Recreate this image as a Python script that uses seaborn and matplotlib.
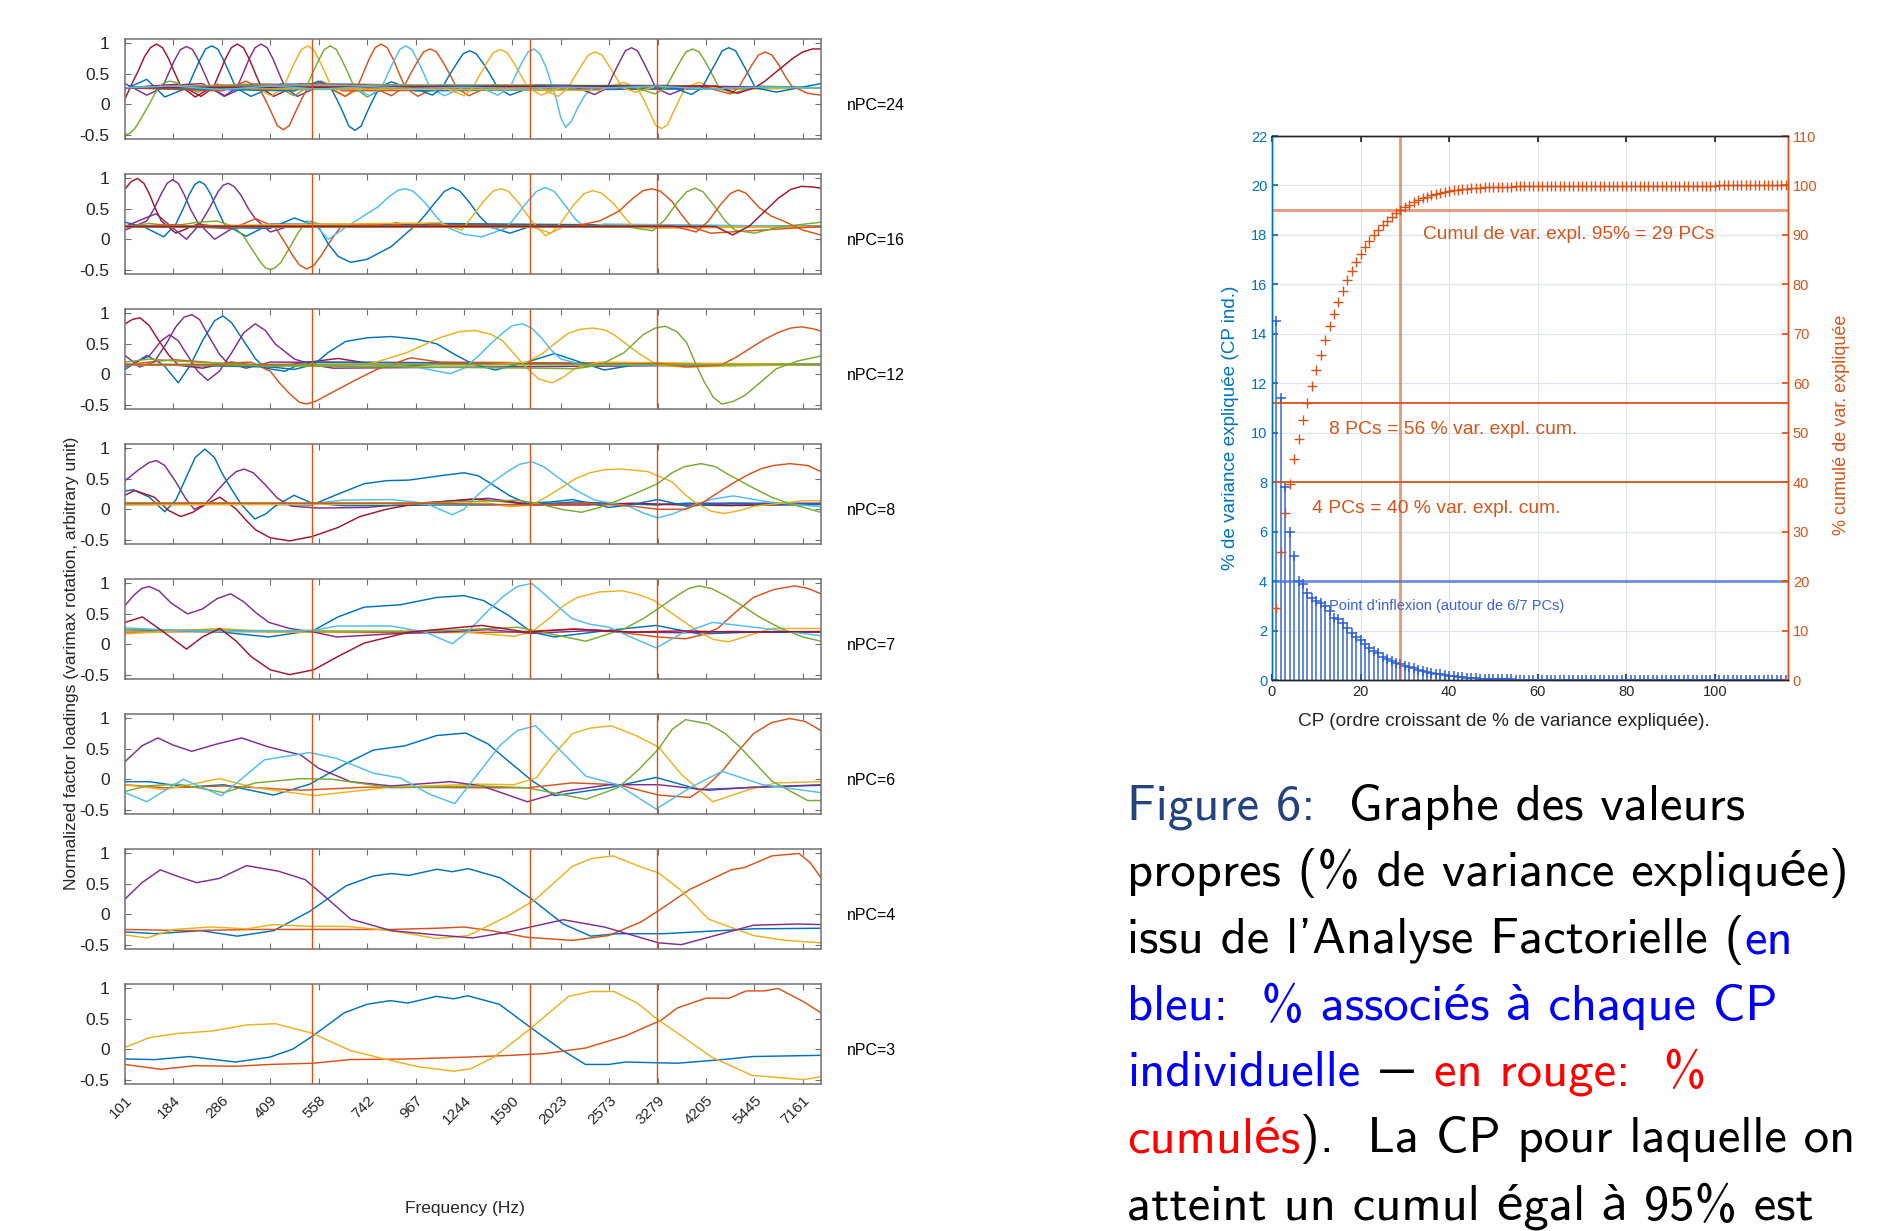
import numpy as np
import pandas as pd
import matplotlib
matplotlib.use("Agg")
import matplotlib.pyplot as plt
import seaborn as sns

# ---------------------------------------------------------------- data
FREQ_LABELS = ["101", "184", "286", "409", "558", "742", "967", "1244",
               "1590", "2023", "2573", "3279", "4205", "5445", "7161"]
POS_MAX = 14.375                     # last frequency bin on the tick scale
BAND_MARKS = [3.87, 8.36, 10.99]     # vertical reference lines (tick scale)

# factor loadings, one list of (position, loading) knots per component
NPC24 = [
    ("R", [(0, .09), (.15, .35), (.275, .55), (.4, .78), (.525, .93), (.65, .99), (.775, .93), (.9, .75), (1.025, .52), (1.15, .3), (1.45, .12), (1.9, .33), (2.4, .25), (14.375, .27)]),
    ("P", [(0, .34), (.45, .15), (.77, .27), (.895, .5), (1.02, .72), (1.145, .9), (1.27, .95), (1.395, .9), (1.52, .72), (1.645, .5), (1.77, .27), (2.05, .13), (2.6, .33), (14.375, .27)]),
    ("B", [(0, .25), (.45, .41), (.82, .12), (1.29, .27), (1.415, .5), (1.54, .72), (1.665, .91), (1.79, .96), (1.915, .91), (2.04, .72), (2.165, .5), (2.29, .27), (2.6, .13), (3.2, .33), (14.375, .27)]),
    ("R", [(0, .27), (1.1, .33), (1.57, .13), (1.82, .27), (1.945, .5), (2.07, .74), (2.195, .93), (2.32, .99), (2.445, .93), (2.57, .74), (2.695, .5), (2.82, .27), (3.07, .13), (3.6, .33), (14.375, .27)]),
    ("P", [(0, .27), (1.6, .34), (2.06, .14), (2.31, .27), (2.435, .5), (2.56, .74), (2.685, .93), (2.81, .99), (2.935, .93), (3.06, .74), (3.185, .5), (3.31, .27), (3.56, .13), (4.1, .33), (14.375, .27)]),
    ("Y", [(0, .27), (2.55, .33), (3.02, .14), (3.27, .27), (3.395, .5), (3.52, .71), (3.645, .9), (3.77, .96), (3.895, .9), (4.02, .71), (4.145, .5), (4.27, .27), (4.55, .13), (5, .32), (14.375, .27)]),
    ("G", [(0, -.5), (.1, -.48), (.2, -.4), (.3, -.28), (.4, -.14), (.5, 0), (.6, .15), (.7, .28), (.8, .35), (.92, .38), (1.05, .36), (1.2, .3), (1.5, .2), (2, .31), (2.6, .24), (14.375, .27)]),
    ("G", [(0, .27), (3, .33), (3.5, .14), (3.74, .27), (3.865, .5), (3.99, .71), (4.115, .9), (4.24, .96), (4.365, .9), (4.49, .71), (4.615, .5), (4.74, .27), (5, .12), (5.5, .32), (14.375, .27)]),
    ("O", [(0, .27), (2, .22), (2.5, .38), (2.77, .27), (2.895, .08), (3.02, -.13), (3.145, -.35), (3.27, -.42), (3.395, -.35), (3.52, -.13), (3.645, .08), (3.77, .27), (4.05, .38), (4.5, .22), (14.375, .27)]),
    ("O", [(0, .27), (4.05, .33), (4.55, .13), (4.79, .27), (4.915, .5), (5.04, .74), (5.165, .93), (5.29, .99), (5.415, .93), (5.54, .74), (5.665, .5), (5.79, .27), (6.05, .13), (6.5, .32), (14.375, .27)]),
    ("B", [(0, .27), (3.5, .22), (4, .38), (4.25, .27), (4.375, .08), (4.5, -.13), (4.625, -.36), (4.75, -.43), (4.875, -.36), (5, -.13), (5.125, .08), (5.25, .27), (5.5, .37), (6, .22), (14.375, .27)]),
    ("L", [(0, .27), (4.6, .33), (5.05, .14), (5.3, .27), (5.425, .5), (5.55, .71), (5.675, .9), (5.8, .96), (5.925, .9), (6.05, .71), (6.175, .5), (6.3, .27), (6.6, .14), (7.1, .32), (14.375, .27)]),
    ("O", [(0, .27), (5, .32), (5.5, .14), (5.75, .27), (5.89, .49), (6.03, .69), (6.165, .86), (6.3, .91), (6.435, .86), (6.57, .69), (6.71, .49), (6.85, .27), (7.1, .14), (7.6, .32), (14.375, .27)]),
    ("B", [(0, .27), (5.8, .32), (6.35, .15), (6.55, .27), (6.7, .48), (6.85, .67), (6.985, .83), (7.12, .88), (7.255, .83), (7.4, .67), (7.55, .48), (7.7, .27), (7.95, .15), (8.5, .31), (14.375, .27)]),
    ("Y", [(0, .27), (6.45, .32), (7, .14), (7.18, .27), (7.325, .48), (7.47, .68), (7.61, .85), (7.75, .9), (7.89, .85), (8.03, .68), (8.175, .48), (8.32, .27), (8.6, .15), (9.1, .31), (14.375, .27)]),
    ("L", [(0, .27), (7.2, .32), (7.7, .15), (7.95, .27), (8.075, .49), (8.2, .69), (8.325, .86), (8.45, .91), (8.575, .82), (8.7, .6), (8.8, .35), (8.9, .1), (9.0, -.22), (9.1, -.38), (9.22, -.28), (9.35, -.06), (9.5, .15), (9.7, .3), (10.2, .31), (14.375, .27)]),
    ("Y", [(0, .27), (8.4, .32), (8.95, .13), (9.15, .27), (9.29, .46), (9.43, .64), (9.57, .81), (9.71, .86), (9.85, .81), (9.99, .64), (10.13, .46), (10.27, .27), (10.55, .2), (11, .3), (14.375, .27)]),
    ("P", [(0, .27), (9.2, .31), (9.7, .16), (9.96, .27), (10.085, .49), (10.21, .69), (10.335, .88), (10.46, .93), (10.585, .88), (10.71, .69), (10.835, .49), (10.96, .27), (11.25, .16), (11.7, .3), (14.375, .27)]),
    ("Y", [(0, .27), (9.8, .23), (10.3, .36), (10.58, .27), (10.705, .09), (10.83, -.12), (10.955, -.34), (11.08, -.4), (11.205, -.34), (11.33, -.12), (11.455, .09), (11.58, .27), (11.85, .36), (12.3, .24), (14.375, .27)]),
    ("G", [(0, .27), (10.4, .31), (10.95, .17), (11.17, .27), (11.31, .48), (11.45, .68), (11.585, .86), (11.72, .91), (11.86, .86), (12, .68), (12.135, .48), (12.27, .27), (12.55, .18), (13.1, .3), (14.375, .27)]),
    ("B", [(0, .27), (11.2, .31), (11.7, .16), (11.92, .27), (12.06, .48), (12.2, .68), (12.335, .88), (12.47, .93), (12.61, .88), (12.75, .68), (12.885, .48), (13.02, .27), (13.45, .2), (14.375, .34)]),
    ("O", [(0, .27), (11.9, .3), (12.5, .17), (12.67, .27), (12.81, .46), (12.95, .65), (13.085, .81), (13.22, .86), (13.36, .81), (13.5, .65), (13.635, .46), (13.77, .3), (14.1, .18), (14.375, .15)]),
    ("R", [(0, .27), (12.2, .3), (12.65, .18), (13, .27), (13.2, .37), (13.4, .5), (13.6, .63), (13.8, .76), (14.0, .86), (14.2, .91), (14.375, .91)]),
    ("L", [(0, .27), (1, .3), (2, .24), (3, .3), (4, .25), (5, .29), (6, .26), (7, .28), (8, .26), (9, .28), (10, .27), (11, .3), (12, .25), (13, .28), (14.375, .27)]),
]

NPC16 = [
    ("R", [(0, .83), (.13, .95), (.26, 1.0), (.39, .92), (.5, .75), (.62, .52), (.75, .3), (1.05, .1), (1.5, .25), (2, .2), (14.375, .21)]),
    ("P", [(0, .15), (.45, .3), (.6, .5), (.75, .75), (.87, .92), (.98, .98), (1.1, .92), (1.22, .74), (1.35, .5), (1.5, .28), (1.85, 0), (2.3, .22), (14.375, .21)]),
    ("B", [(0, .28), (.4, .2), (.8, .04), (1.05, .25), (1.2, .5), (1.33, .74), (1.44, .9), (1.54, .95), (1.65, .9), (1.77, .74), (1.9, .5), (2.05, .25), (2.5, .05), (3, .25), (14.375, .21)]),
    ("P", [(0, .21), (.64, .42), (1.27, 0), (1.55, .25), (1.75, .52), (1.92, .78), (2.03, .89), (2.13, .92), (2.25, .87), (2.4, .72), (2.55, .5), (2.7, .33), (3, .12), (3.5, .24), (14.375, .21)]),
    ("G", [(0, .2), (.5, .26), (1, .22), (1.5, .28), (1.9, .3), (2.25, .21), (2.45, .05), (2.62, -.16), (2.8, -.38), (2.9, -.47), (3, -.5), (3.1, -.47), (3.22, -.38), (3.4, -.14), (3.57, .1), (3.75, .3), (4.1, .24), (14.375, .21)]),
    ("O", [(0, .21), (1, .24), (2.2, .17), (2.7, .34), (3.1, .2), (3.3, -.05), (3.45, -.25), (3.6, -.42), (3.75, -.49), (3.9, -.43), (4.05, -.27), (4.25, -.02), (4.45, .2), (4.8, .25), (14.375, .21)]),
    ("B", [(0, .21), (3, .18), (3.5, .35), (4, .2), (4.2, -.08), (4.4, -.28), (4.66, -.38), (5, -.33), (5.5, -.12), (5.97, .21), (6.3, .26), (14.375, .21)]),
    ("L", [(0, .21), (3.5, .21), (3.85, .3), (4.2, 0), (4.6, .22), (5.22, .53), (5.45, .7), (5.65, .81), (5.8, .83), (5.95, .79), (6.2, .6), (6.42, .38), (6.62, .21), (7.0, .08), (7.37, .04), (8, .22), (14.375, .21)]),
    ("B", [(0, .21), (5.2, .21), (5.6, .27), (6, .22), (6.2, .4), (6.4, .6), (6.6, .79), (6.76, .85), (6.92, .79), (7.12, .6), (7.32, .38), (7.55, .2), (7.95, .1), (8.4, .22), (14.375, .21)]),
    ("Y", [(0, .21), (6.5, .27), (6.95, .15), (7.15, .35), (7.4, .62), (7.6, .79), (7.76, .83), (7.92, .79), (8.15, .58), (8.4, .3), (8.68, .06), (9.1, .22), (14.375, .21)]),
    ("L", [(0, .21), (7.4, .22), (7.8, .15), (8.0, .3), (8.25, .56), (8.5, .79), (8.68, .85), (8.86, .79), (9.1, .55), (9.3, .33), (9.5, .2), (9.9, .25), (14.375, .21)]),
    ("Y", [(0, .21), (8.4, .2), (8.8, .1), (9.0, .27), (9.25, .55), (9.48, .75), (9.66, .8), (9.84, .76), (10.1, .58), (10.3, .38), (10.5, .2), (10.9, .18), (14.375, .21)]),
    ("O", [(0, .21), (9.3, .22), (9.8, .3), (10.2, .46), (10.5, .68), (10.7, .8), (10.88, .83), (11.06, .79), (11.3, .62), (11.5, .4), (11.7, .2), (12.1, .1), (14.375, .21)]),
    ("G", [(0, .21), (10.4, .2), (10.9, .14), (11.15, .32), (11.4, .6), (11.6, .78), (11.77, .84), (11.94, .78), (12.2, .52), (12.4, .3), (12.6, .15), (13, .1), (13.5, .2), (14.375, .28)]),
    ("O", [(0, .21), (11.3, .22), (11.8, .12), (12.05, .3), (12.3, .57), (12.5, .75), (12.66, .81), (12.82, .76), (13.1, .52), (13.35, .38), (13.6, .3), (14, .15), (14.375, .07)]),
    ("R", [(0, .21), (12.2, .21), (12.55, .07), (12.9, .22), (13.2, .45), (13.5, .68), (13.75, .82), (13.97, .87), (14.2, .86), (14.375, .84)]),
]

NPC12 = [
    ("R", [(0, .83), (.15, .9), (.31, .93), (.5, .8), (.7, .55), (.9, .32), (1.1, .15), (1.6, .1), (2.2, .2), (3, .12), (3.8, .2), (4.4, .26), (5.5, .12), (6.5, .17), (14.375, .16)]),
    ("P", [(0, .31), (.3, .12), (.6, .2), (.85, .5), (1.05, .78), (1.22, .94), (1.38, .98), (1.54, .9), (1.75, .6), (1.95, .33), (2.1, .2), (2.5, .1), (3, .2), (14.375, .16)]),
    ("B", [(0, .08), (.45, .31), (.8, .15), (1.1, -.14), (1.35, .15), (1.6, .55), (1.85, .88), (2.02, .96), (2.2, .85), (2.45, .55), (2.7, .25), (2.9, .1), (3.3, .05), (3.7, .2), (4, .2), (14.375, .16)]),
    ("P", [(0, .12), (.5, .3), (.75, .55), (.92, .65), (1.1, .55), (1.3, .3), (1.5, .05), (1.71, -.1), (1.95, .05), (2.2, .35), (2.45, .68), (2.69, .83), (2.9, .72), (3.1, .5), (3.5, .25), (3.9, .15), (4.3, .1), (14.375, .16)]),
    ("O", [(0, .16), (1, .24), (2, .18), (2.6, .2), (3, .05), (3.2, -.15), (3.4, -.32), (3.6, -.46), (3.75, -.49), (3.95, -.44), (4.3, -.29), (4.75, -.1), (5.2, .08), (5.9, .27), (6.5, .2), (14.375, .16)]),
    ("B", [(0, .16), (3, .12), (3.5, .08), (3.9, .16), (4.2, .36), (4.56, .54), (5.0, .6), (5.5, .62), (6.0, .58), (6.44, .5), (6.8, .33), (7.18, .17), (7.65, .07), (8.3, .2), (8.87, .34), (9.4, .2), (9.9, .07), (10.5, .15), (14.375, .16)]),
    ("Y", [(0, .16), (4.5, .15), (5.1, .18), (5.8, .35), (6.5, .6), (6.9, .7), (7.23, .72), (7.55, .66), (7.8, .55), (8.05, .32), (8.3, .1), (8.55, -.08), (8.82, -.14), (9.05, -.05), (9.3, .1), (9.8, .2), (14.375, .16)]),
    ("L", [(0, .16), (5, .16), (6, .12), (6.72, .01), (7.0, .1), (7.3, .3), (7.55, .5), (7.8, .68), (8.0, .8), (8.21, .83), (8.4, .76), (8.6, .6), (8.8, .4), (9, .25), (9.5, .15), (14.375, .16)]),
    ("Y", [(0, .16), (7.5, .16), (8.3, .2), (8.6, .33), (8.9, .52), (9.15, .67), (9.4, .74), (9.66, .76), (9.9, .73), (10.1, .65), (10.35, .5), (10.6, .35), (11, .15), (11.5, .12), (14.375, .16)]),
    ("G", [(0, .16), (8.5, .1), (9.3, .09), (9.8, .15), (10.3, .35), (10.7, .65), (10.95, .76), (11.16, .79), (11.4, .7), (11.6, .52), (11.8, .15), (11.96, -.12), (12.15, -.38), (12.33, -.49), (12.55, -.45), (12.8, -.35), (13.1, -.15), (13.45, .09), (13.9, .22), (14.375, .3)]),
    ("O", [(0, .16), (10, .16), (11, .18), (11.6, .12), (12.3, .15), (12.6, .27), (12.9, .42), (13.2, .57), (13.5, .69), (13.75, .76), (13.97, .78), (14.2, .75), (14.375, .71)]),
    ("G", [(0, .2), (.5, .25), (1, .22), (1.5, .2), (2, .18), (2.5, .16), (3, .13), (3.5, .15), (4, .16), (14.375, .16)]),
]

NPC8 = [
    ("P", [(0, .47), (.3, .66), (.5, .77), (.65, .8), (.82, .72), (1.05, .45), (1.25, .18), (1.43, 0), (1.65, .08), (1.9, .3), (2.15, .52), (2.3, .62), (2.46, .66), (2.65, .6), (2.9, .4), (3.15, .18), (3.44, .05), (4, .02), (5, .03), (6, .1), (7, .15), (7.5, .18), (8.4, .08), (9.5, .1), (11, .08), (12, .1), (14.375, .1)]),
    ("B", [(0, .3), (.17, .32), (.5, .2), (.82, -.04), (1.05, .15), (1.25, .5), (1.45, .85), (1.65, .99), (1.85, .85), (2.0, .6), (2.13, .42), (2.4, .08), (2.68, -.16), (2.9, -.08), (3.1, .05), (3.49, .23), (3.86, .1), (4.5, .06), (5.5, .06), (6.5, .07), (7.5, .07), (8.4, .08), (9.3, .12), (10, .1), (11, .07), (11.6, .1), (12.5, .07), (13.5, .08), (14.375, .08)]),
    ("R", [(0, .23), (.2, .31), (.6, .2), (.9, -.02), (1.15, -.12), (1.4, -.05), (1.6, .05), (1.96, .2), (2.3, 0), (2.5, -.18), (2.7, -.34), (3.0, -.47), (3.4, -.52), (3.86, -.45), (4.4, -.3), (4.85, -.12), (5.4, 0), (5.87, .07), (6.5, .12), (7.18, .17), (7.9, .12), (8.4, .07), (9.5, .07), (10.5, .1), (11.5, .07), (12.5, .06), (14.375, .08)]),
    ("B", [(0, .08), (2, .08), (3, .08), (3.86, .07), (4.4, .25), (4.94, .42), (5.4, .47), (5.87, .48), (6.5, .55), (7, .6), (7.3, .55), (7.6, .4), (7.95, .22), (8.3, .1), (8.8, .12), (9.24, .16), (10, .03), (10.5, .08), (11, .16), (11.6, .05), (12.5, .1), (13.5, .08), (14.375, .08)]),
    ("L", [(0, .1), (1, .1), (2, .1), (3.86, .09), (4.5, .15), (5.5, .16), (6.2, .1), (6.5, 0), (6.76, -.09), (7.0, 0), (7.3, .25), (7.6, .45), (7.9, .62), (8.15, .74), (8.4, .78), (8.65, .7), (8.9, .55), (9.3, .32), (9.7, .15), (10.4, .05), (10.7, -.06), (11, -.14), (11.3, -.08), (11.7, .05), (12.1, .16), (12.56, .22), (13.3, .12), (14.375, .04)]),
    ("Y", [(0, .07), (3, .08), (6, .09), (7.5, .1), (7.93, .04), (8.4, .07), (8.7, .2), (9, .35), (9.3, .5), (9.6, .6), (9.9, .65), (10.27, .66), (10.8, .62), (11.3, .45), (11.55, .25), (11.8, .1), (12.1, -.03), (12.38, -.07), (12.7, -.02), (13, .05), (14, .14), (14.375, .14)]),
    ("G", [(0, .1), (3, .1), (6, .1), (8.1, .15), (8.5, .1), (9.0, 0), (9.43, -.05), (9.8, .03), (10.2, .15), (10.6, .28), (11, .42), (11.3, .6), (11.55, .7), (11.9, .75), (12.2, .7), (12.4, .6), (12.7, .47), (13, .34), (13.35, .2), (13.7, .1), (14.375, -.05)]),
    ("O", [(0, .1), (3, .1), (6, .1), (8.4, .07), (9.5, .1), (10.5, .05), (11, 0), (11.58, 0), (11.95, .12), (12.3, .3), (12.6, .45), (12.9, .58), (13.15, .67), (13.4, .72), (13.73, .75), (14.1, .72), (14.375, .62)]),
]

NPC7 = [
    ("B", [(0, .24), (1, .22), (2, .2), (2.97, .12), (3.9, .23), (4.4, .45), (4.94, .61), (5.69, .65), (6.44, .77), (7, .8), (7.4, .72), (7.93, .47), (8.4, .2), (8.87, .12), (10, .23), (10.97, .31), (11.86, .17), (13, .2), (14.375, .2)]),
    ("O", [(0, .2), (2, .21), (4, .2), (6, .19), (8, .2), (9.24, .25), (10, .22), (11, .12), (11.58, .09), (11.9, .15), (12.24, .26), (12.6, .52), (12.98, .77), (13.4, .9), (13.83, .96), (14.1, .92), (14.375, .83)]),
    ("Y", [(0, .17), (1.96, .26), (3, .2), (4, .2), (5, .21), (6, .22), (7, .2), (8.03, .13), (8.4, .2), (8.8, .45), (9.05, .63), (9.34, .77), (9.8, .86), (10.27, .88), (10.6, .82), (10.93, .72), (11.4, .45), (11.86, .2), (12.15, .08), (12.47, .04), (12.9, .15), (13.36, .26), (14.375, .26)]),
    ("P", [(0, .64), (.2, .82), (.35, .92), (.5, .95), (.7, .88), (.95, .68), (1.29, .5), (1.6, .58), (1.9, .75), (2.18, .83), (2.45, .7), (2.7, .52), (2.97, .36), (3.4, .26), (3.9, .2), (4.38, .12), (5.5, .17), (6.5, .2), (7.5, .24), (8.4, .18), (9.5, .22), (10.5, .2), (11.5, .19), (12.5, .21), (13.5, .2), (14.375, .2)]),
    ("G", [(0, .24), (2, .23), (4, .22), (6, .21), (7, .24), (8.12, .28), (9.52, .05), (10.3, .25), (10.7, .42), (11.02, .59), (11.4, .8), (11.65, .92), (11.86, .96), (12.1, .92), (12.4, .8), (12.7, .66), (13.1, .45), (13.55, .26), (14.0, .12), (14.375, .05)]),
    ("L", [(0, .27), (1.29, .22), (1.96, .21), (3, .22), (3.9, .23), (4.38, .3), (5.5, .3), (6.2, .2), (6.76, .01), (7.1, .22), (7.47, .53), (7.8, .78), (8.1, .95), (8.4, 1.0), (8.7, .8), (9.0, .58), (9.24, .42), (9.6, .33), (10, .28), (10.5, .1), (10.97, -.06), (11.5, .18), (12.14, .36), (13, .28), (14.375, .14)]),
    ("R", [(0, .36), (.36, .45), (.8, .2), (1.27, -.08), (1.6, .12), (1.96, .26), (2.3, .05), (2.6, -.2), (3.0, -.42), (3.4, -.5), (3.9, -.42), (4.4, -.2), (4.94, .02), (5.87, .2), (7.37, .31), (8.3, .2), (9.3, .25), (10.5, .2), (11.5, .22), (12.5, .2), (14.375, .21)]),
]

NPC6 = [
    ("B", [(0, -.04), (.5, -.04), (1.29, -.13), (2.04, -.09), (3.07, -.26), (3.82, -.08), (4.57, .26), (5.13, .48), (5.78, .55), (6.44, .72), (7.04, .76), (7.5, .58), (7.93, .29), (8.4, -.02), (8.87, -.27), (10, -.14), (10.97, .03), (11.86, -.17), (12.8, -.14), (14.375, -.09)]),
    ("O", [(0, -.09), (.82, -.14), (2.04, -.11), (3.63, -.18), (5, -.13), (7.37, -.14), (8.31, -.14), (9.24, -.06), (10.18, -.09), (11.02, -.26), (11.67, -.3), (12.0, -.12), (12.33, .13), (12.65, .45), (12.98, .75), (13.35, .93), (13.73, 1.0), (14.05, .95), (14.375, .8)]),
    ("Y", [(0, -.09), (.82, -.17), (1.95, .01), (2.69, -.14), (3.91, -.27), (5.5, -.13), (7.28, -.08), (8.03, -.09), (8.49, .02), (8.85, .4), (9.24, .75), (9.6, .84), (10.04, .88), (10.55, .72), (11.02, .53), (11.49, .08), (12.14, -.37), (12.89, -.17), (13.45, -.06), (14.375, -.04)]),
    ("P", [(0, .29), (.35, .55), (.68, .68), (1.0, .56), (1.38, .46), (1.9, .58), (2.41, .68), (2.97, .53), (3.63, .4), (4, .18), (4.66, -.04), (5.5, -.11), (6.72, -.04), (7.37, -.11), (8.31, -.37), (9.05, -.2), (10, -.09), (11.02, -.09), (12.05, -.18), (12.98, -.13), (14.375, -.1)]),
    ("G", [(0, -.2), (.45, -.11), (1.1, -.08), (2.04, -.22), (2.69, -.06), (3.63, .01), (4.28, 0), (5.5, -.14), (7.37, -.11), (8.31, -.14), (9.52, -.33), (10.18, -.14), (10.6, .15), (11.02, .5), (11.3, .82), (11.58, .98), (12.05, .91), (12.4, .75), (12.7, .53), (13.36, -.03), (14.1, -.35), (14.375, -.35)]),
    ("L", [(0, -.22), (.45, -.37), (1.2, 0), (1.99, -.27), (2.88, .32), (3.82, .44), (4.38, .34), (5.13, .1), (5.69, .02), (6.3, -.25), (6.81, -.4), (7.3, .1), (7.75, .56), (8.1, .8), (8.48, .88), (8.96, .5), (9.52, .05), (10.18, -.09), (10.97, -.49), (11.67, -.14), (12.33, .13), (13.17, -.09), (14.375, -.22)]),
]

NPC4 = [
    ("B", [(0, -.29), (.64, -.32), (1.57, -.27), (2.32, -.36), (3.07, -.27), (3.82, .05), (4.57, .47), (5.13, .63), (5.5, .67), (5.87, .64), (6.44, .74), (6.76, .7), (7.09, .75), (7.75, .6), (8.4, .25), (9.05, -.16), (9.62, -.36), (10.18, -.32), (11.11, -.32), (12.05, -.28), (12.98, -.24), (14.375, -.23)]),
    ("O", [(0, -.25), (1.29, -.27), (2.69, -.25), (3.82, -.25), (5.5, -.25), (6.44, -.23), (7, -.21), (7.56, -.27), (8.31, -.38), (9.24, -.43), (9.99, -.35), (10.65, -.13), (11.02, .06), (11.67, .41), (12.52, .73), (12.8, .77), (13.36, .96), (13.92, 1.0), (14.15, .85), (14.375, .6)]),
    ("Y", [(0, -.34), (.45, -.39), (1.01, -.25), (1.76, -.21), (2.51, -.24), (3.07, -.17), (3.82, -.2), (4.57, -.2), (5.5, -.27), (6.44, -.4), (7.09, -.35), (7.93, -.02), (8.49, .25), (9.24, .79), (9.65, .92), (10.08, .96), (10.65, .78), (11.02, .68), (11.49, .39), (12.05, -.08), (12.98, -.35), (13.64, -.43), (14.375, -.47)]),
    ("P", [(0, .25), (.35, .52), (.73, .73), (1.1, .62), (1.48, .52), (1.95, .59), (2.51, .8), (3.16, .71), (3.72, .57), (4.19, .25), (4.66, -.08), (5.5, -.27), (6.44, -.34), (7.18, -.39), (7.93, -.29), (9.05, -.09), (9.9, -.21), (11.02, -.47), (11.49, -.5), (12.05, -.38), (12.98, -.18), (13.92, -.16), (14.375, -.17)]),
]

NPC3 = [
    ("B", [(0, -.16), (.62, -.17), (1.33, -.12), (2.28, -.21), (2.99, -.13), (3.46, 0), (3.88, .22), (4.53, .6), (5, .74), (5.48, .8), (5.84, .76), (6.43, .87), (6.79, .83), (7.08, .88), (7.73, .74), (8.39, .35), (9.04, -.02), (9.51, -.25), (9.99, -.25), (10.34, -.21), (11.41, -.23), (12.48, -.16), (12.95, -.12), (14.375, -.1)]),
    ("O", [(0, -.25), (.74, -.33), (1.45, -.27), (2.28, -.28), (2.99, -.25), (3.88, -.23), (4.65, -.17), (5.84, -.16), (7.02, -.13), (7.97, -.1), (8.68, -.07), (9.51, .02), (10.34, .22), (10.82, .39), (11.06, .47), (11.41, .68), (12, .84), (12.48, .84), (12.83, .96), (13.2, .96), (13.49, 1.0), (14.02, .78), (14.375, .6)]),
    ("Y", [(0, .03), (.5, .19), (1.09, .26), (1.8, .3), (2.51, .4), (3.11, .42), (3.88, .26), (4.65, -.02), (5.36, -.16), (6.07, -.29), (6.79, -.36), (7.14, -.32), (7.62, -.13), (8.39, .35), (9.16, .87), (9.63, .95), (10.1, .95), (10.58, .76), (11, .49), (11.53, .2), (12.12, -.13), (12.95, -.43), (14.02, -.5), (14.375, -.45)]),
]

PANELS = [("nPC=24", NPC24), ("nPC=16", NPC16), ("nPC=12", NPC12), ("nPC=8", NPC8),
          ("nPC=7", NPC7), ("nPC=6", NPC6), ("nPC=4", NPC4), ("nPC=3", NPC3)]

# individual explained variance (%) per principal component, PC1..PC116
VAR_PC = [14.5, 11.4, 7.8, 6.0, 5.0, 4.0, 3.9, 3.5, 3.3, 3.2,
          3.1, 3.0, 2.8, 2.5, 2.45, 2.3, 2.1, 1.9, 1.72, 1.6,
          1.45, 1.31, 1.18, 1.08, 0.94, 0.85, 0.77, 0.7, 0.66, 0.58,
          0.52, 0.47, 0.42, 0.37, 0.33, 0.29, 0.26, 0.23, 0.2, 0.17,
          0.15, 0.13, 0.11, 0.1, 0.08, 0.07, 0.06, 0.05, 0.04, 0.035,
          0.03, 0.028, 0.025, 0.022, 0.02, 0.018, 0.017, 0.015, 0.014, 0.013,
          0.006, 0.006, 0.005, 0.005, 0.005, 0.004, 0.004, 0.004, 0.004, 0.004,
          0.003, 0.003, 0.003, 0.003, 0.003, 0.003, 0.003, 0.003, 0.003, 0.003,
          0.002, 0.002, 0.002, 0.002, 0.002, 0.002, 0.002, 0.002, 0.002, 0.002,
          0.002, 0.002, 0.002, 0.002, 0.002, 0.002, 0.001, 0.001, 0.001, 0.001,
          0.001, 0.001, 0.001, 0.001, 0.001, 0.001, 0.001, 0.001, 0.001, 0.001,
          0.001, 0.001, 0.001, 0.001, 0.001, 0.001]
CUM_THRESHOLDS = [95, 56, 40]   # % cumulated variance reference levels
N95 = 29                          # PCs needed for 95 %
INFLEXION_LEVEL = 4.0             # individual-variance reference level

# ---------------------------------------------------------------- style
W, H = 1890, 1231
sns.set_theme(style="ticks")
plt.rcParams["font.family"] = ["Liberation Sans", "DejaVu Sans"]
plt.rcParams["xtick.direction"] = "in"
plt.rcParams["ytick.direction"] = "in"

MCOL = {"B": "#0072BD", "O": "#D95319", "Y": "#EDB120", "P": "#7E2F8E",
        "G": "#77AC30", "L": "#4DBEEE", "R": "#A2142F"}
ORANGE = "#D95319"
AXBLUE = "#0072BD"
STEMBLUE = "#2d5fd6"
TXT = "#262626"
FRAME = "#707070"

fig = plt.figure(figsize=(W / 100, H / 100), dpi=100)


def px_rect(left, top, width, height):
    return [left / W, 1 - (top + height) / H, width / W, height / H]


# ---------------------------------------------------------------- loadings panels
for k, (label, curves) in enumerate(PANELS):
    ax = fig.add_axes(px_rect(125, 38.6 + 135 * k, 696, 100))
    rows = []
    palette = {}
    for i, (ckey, knots) in enumerate(curves):
        cid = f"c{i:02d}"
        palette[cid] = MCOL[ckey]
        for pos, val in knots:
            rows.append((cid, pos, val))
    df = pd.DataFrame(rows, columns=["comp", "pos", "loading"])
    sns.lineplot(data=df, x="pos", y="loading", hue="comp", palette=palette,
                 hue_order=list(palette), estimator=None, sort=False,
                 legend=False, linewidth=1.05, ax=ax)
    for xm in BAND_MARKS:
        ax.axvline(xm, color=ORANGE, lw=1.0, zorder=3)
    ax.set_xlim(0, POS_MAX)
    ax.set_ylim(-0.565, 1.08)
    ax.set_xticks(range(len(FREQ_LABELS)))
    ax.set_yticks([-0.5, 0, 0.5, 1])
    ax.set_yticklabels(["-0.5", "0", "0.5", "1"])
    ax.tick_params(axis="both", which="both", top=True, right=True,
                   length=4, width=0.8, color=FRAME, labelsize=12.5,
                   labelcolor=TXT)
    ax.tick_params(axis="y", pad=11)
    if k == len(PANELS) - 1:
        ax.set_xticklabels(FREQ_LABELS, rotation=45, ha="right",
                           rotation_mode="anchor", fontsize=11)
        ax.tick_params(axis="x", pad=7)
    else:
        ax.set_xticklabels([])
    ax.set_xlabel("")
    ax.set_ylabel("")
    for sp in ax.spines.values():
        sp.set_color(FRAME)
        sp.set_linewidth(1.1)
    ax.text(1.037, -0.02, label, transform=ax.get_yaxis_transform(),
            ha="left", va="center", fontsize=11.5, color="black")

fig.text(72 / W, 1 - 663 / H,
         "Normalized factor loadings (varimax rotation, arbitrary unit)",
         rotation=90, ha="center", va="center", fontsize=12.5, color=TXT)
fig.text(465 / W, 1 - 1209 / H, "Frequency (Hz)", ha="center", va="center",
         fontsize=12.5, color=TXT)

# ---------------------------------------------------------------- scree plot
pcs = np.arange(1, len(VAR_PC) + 1)
var = np.array(VAR_PC)
cum = np.cumsum(var)

axs = fig.add_axes(px_rect(1272, 136, 516, 544))
axr = axs.twinx()
axs.set_xlim(0, 116.5)
axs.set_ylim(0, 22)
axr.set_ylim(0, 110)
axs.set_xticks(np.arange(0, 101, 20))
axs.set_yticks(np.arange(0, 23, 2))
axr.set_yticks(np.arange(0, 111, 10))
axs.grid(True, color="#dfe5ec", lw=0.9)
axs.set_axisbelow(True)

axs.vlines(pcs, 0, var, color=STEMBLUE, lw=1.3, alpha=0.8, zorder=2)
sns.scatterplot(x=pcs, y=var, marker="+", s=60, color=STEMBLUE,
                linewidth=1.1, ax=axs, zorder=3)
axs.axhline(INFLEXION_LEVEL, color="#3d6ee0", lw=2.0, alpha=0.75, zorder=3)

sns.scatterplot(x=pcs, y=cum, marker="+", s=62, color=ORANGE,
                linewidth=1.0, ax=axr, zorder=4)
axr.axhline(CUM_THRESHOLDS[0], color=ORANGE, lw=2.0, alpha=0.6, zorder=2)
axr.axhline(CUM_THRESHOLDS[1], color=ORANGE, lw=1.3, zorder=2)
axr.axhline(CUM_THRESHOLDS[2], color=ORANGE, lw=1.3, zorder=2)
axr.axvline(N95, color=ORANGE, lw=2.0, alpha=0.6, zorder=2)

axr.text(34.2, 90, "Cumul de var. expl. 95% = 29 PCs", color=ORANGE,
         fontsize=13.8, va="center", ha="left")
axr.text(12.8, 50.7, "8 PCs = 56 % var. expl. cum.", color=ORANGE,
         fontsize=13.9, va="center", ha="left")
axr.text(9.0, 34.6, "4 PCs = 40 % var. expl. cum.", color=ORANGE,
         fontsize=13.9, va="center", ha="left")
axs.text(12.8, 2.98, "Point d'inflexion (autour de 6/7 PCs)", color="#3a62d8",
         fontsize=10.5, va="center", ha="left")

axs.tick_params(axis="x", top=True, length=4, color=TXT, labelcolor=TXT,
                labelsize=10.5)
axs.tick_params(axis="y", length=4, color=AXBLUE, labelcolor=AXBLUE,
                labelsize=10.5)
axr.tick_params(axis="y", length=4, color=ORANGE, labelcolor=ORANGE,
                labelsize=10.5)
axs.spines["left"].set_color(AXBLUE)
axr.spines["left"].set_color(AXBLUE)
axr.spines["right"].set_color(ORANGE)
for a in (axs, axr):
    a.spines["top"].set_color(TXT)
    a.spines["bottom"].set_color(TXT)
    for sp in a.spines.values():
        sp.set_linewidth(1.0)
axs.set_xlabel("CP (ordre croissant de % de variance expliquée).",
               fontsize=13.7, color=TXT)
axs.set_ylabel("% de variance expliquée (CP ind.)", fontsize=13.6,
               color=AXBLUE)
axr.set_ylabel("% cumulé de var. expliquée", fontsize=13, color=ORANGE)
axs.xaxis.set_label_coords(0.449, -0.061)
axs.yaxis.set_label_coords(-0.063, 0.464)
axr.yaxis.set_label_coords(1.088, 0.47)

# ---------------------------------------------------------------- caption
CAPTION = [
    [("Figure 6:", "#23437f"), ("  Graphe des valeurs", "black")],
    [("propres (% de variance expliquée)", "black")],
    [("issu de l'Analyse Factorielle (", "black"), ("en", "#0000ff")],
    [("bleu:  % associés à chaque CP", "#0000ff")],
    [("individuelle", "#0000ff"), (" — ", "black"), ("en rouge:  %", "#ff0000")],
    [("cumulés", "#ff0000"), (").  La CP pour laquelle on", "black")],
    [("atteint un cumul égal à 95% est", "black")],
]
CAP_FONT = ["cmss10", "Lato", "DejaVu Sans"]
renderer = fig.canvas.get_renderer()
for li, parts in enumerate(CAPTION):
    x = 1127
    y = 820 + 66.5 * li
    for txt, col in parts:
        t = fig.text(x / W, 1 - y / H, txt, color=col, fontsize=36.5,
                     family=CAP_FONT, ha="left", va="baseline")
        x += t.get_window_extent(renderer=renderer).width

fig.savefig("out.png", dpi=100)
